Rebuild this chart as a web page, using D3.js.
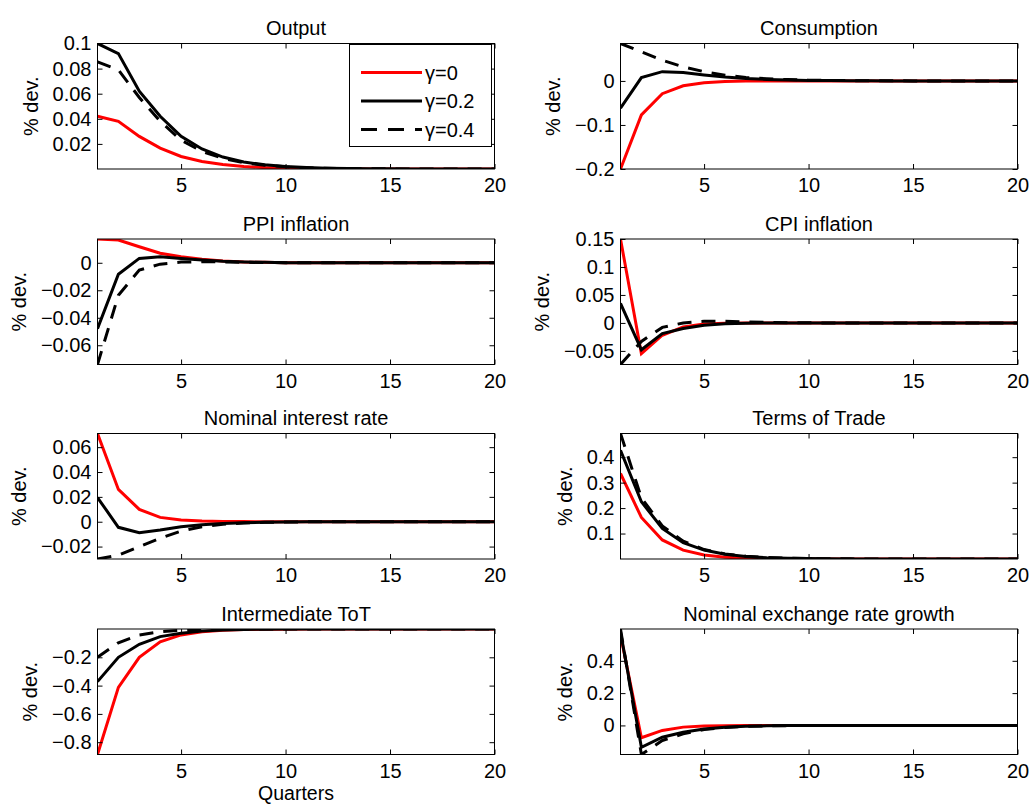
<!DOCTYPE html>
<html>
<head>
<meta charset="utf-8">
<script src="https://cdn.jsdelivr.net/npm/d3@7"></script>
<style>
  body { margin: 0; background: #fff; }
  svg { display: block; }
  text { font-family: "Liberation Sans", Arial, Helvetica, sans-serif; }
</style>
</head>
<body>
<div id="chart"></div>
<script>
// quarters on the x axis
var quarters = [1,2,3,4,5,6,7,8,9,10,11,12,13,14,15,16,17,18,19,20];
var xTicks = [5, 10, 15, 20];

var titles = ['Output', 'Consumption', 'PPI inflation', 'CPI inflation',
              'Nominal interest rate', 'Terms of Trade', 'Intermediate ToT',
              'Nominal exchange rate growth'];

// axis limits (tight) and tick labels
var yLimits = [[0, 0.1], [-0.2, 0.085], [-0.074, 0.0173], [-0.0743, 0.15],
               [-0.03, 0.071], [0, 0.493], [-0.887, 0], [-0.18, 0.597]];
var yTicks = [[0.02, 0.04, 0.06, 0.08, 0.1], [-0.2, -0.1, 0], [-0.06, -0.04, -0.02, 0],
              [-0.05, 0, 0.05, 0.1, 0.15], [-0.02, 0, 0.02, 0.04, 0.06],
              [0.1, 0.2, 0.3, 0.4], [-0.8, -0.6, -0.4, -0.2], [0, 0.2, 0.4]];

var legendLabels = ['\u03b3=0', '\u03b3=0.2', '\u03b3=0.4'];

// impulse responses, % dev.  (g0 = gamma 0, g2 = gamma 0.2, g4 = gamma 0.4)
var outputG0 = [0.042,0.038,0.026,0.0167,0.010,0.006,0.0035,0.002,0.0011,0.0006,0.0003,0.0002,0.0001,0,0,0,0,0,0,0];
var outputG2 = [0.1,0.092,0.062,0.042,0.026,0.016,0.0095,0.0056,0.0033,0.0019,0.0011,0.0006,0.0003,0.0002,0.0001,0,0,0,0,0];
var outputG4 = [0.0854,0.079,0.057,0.038,0.023,0.014,0.0085,0.005,0.003,0.0017,0.001,0.0006,0.0003,0.0002,0.0001,0,0,0,0,0];

var consG0 = [-0.2,-0.077,-0.029,-0.011,-0.004,-0.0013,-0.0004,-0.0001,0,0,0,0,0,0,0,0,0,0,0,0];
var consG2 = [-0.062,0.0075,0.021,0.019,0.0136,0.009,0.0055,0.0033,0.002,0.0012,0.0007,0.0004,0.0002,0.0001,0,0,0,0,0,0];
var consG4 = [0.085,0.066,0.047,0.032,0.021,0.013,0.008,0.005,0.003,0.0018,0.001,0.0006,0.0003,0.0002,0.0001,0,0,0,0,0];

var ppiG0 = [0.0173,0.0166,0.0117,0.0069,0.0044,0.0025,0.0013,0.0006,0.0003,0.0001,0,0,0,0,0,0,0,0,0,0];
var ppiG2 = [-0.048,-0.0083,0.0032,0.0044,0.0032,0.002,0.0011,0.0006,0.0003,0.0001,0,0,0,0,0,0,0,0,0,0];
var ppiG4 = [-0.074,-0.0236,-0.0053,-0.001,0.0005,0.0008,0.0006,0.0004,0.0002,0.0001,0,0,0,0,0,0,0,0,0,0];

var cpiG0 = [0.15,-0.055,-0.022,-0.0072,-0.002,-0.0005,-0.0001,0,0,0,0,0,0,0,0,0,0,0,0,0];
var cpiG2 = [0.035,-0.048,-0.019,-0.010,-0.004,-0.0015,-0.0005,-0.0002,0,0,0,0,0,0,0,0,0,0,0,0];
var cpiG4 = [-0.0743,-0.033,-0.008,0,0.003,0.003,0.002,0.001,0.0005,0.0002,0,0,0,0,0,0,0,0,0,0];

var rateG0 = [0.071,0.026,0.0099,0.0035,0.0014,0.0005,0.0002,0.0001,0,0,0,0,0,0,0,0,0,0,0,0];
var rateG2 = [0.0195,-0.0045,-0.0088,-0.0066,-0.004,-0.0025,-0.0015,-0.0008,-0.0004,-0.0002,-0.0001,0,0,0,0,0,0,0,0,0];
var rateG4 = [-0.03,-0.027,-0.02,-0.0133,-0.0075,-0.004,-0.002,-0.001,-0.0005,-0.0002,-0.0001,0,0,0,0,0,0,0,0,0];

var totG0 = [0.336,0.163,0.075,0.035,0.016,0.007,0.003,0.0015,0.0007,0.0003,0.0001,0,0,0,0,0,0,0,0,0];
var totG2 = [0.427,0.225,0.12,0.064,0.035,0.019,0.01,0.005,0.003,0.0015,0.0008,0.0004,0.0002,0.0001,0,0,0,0,0,0];
var totG4 = [0.493,0.24,0.13,0.07,0.037,0.02,0.011,0.006,0.003,0.0017,0.0009,0.0005,0.0002,0.0001,0,0,0,0,0,0];

var itotG0 = [-0.887,-0.412,-0.2,-0.09,-0.042,-0.02,-0.009,-0.004,-0.002,-0.001,-0.0005,-0.0002,-0.0001,0,0,0,0,0,0,0];
var itotG2 = [-0.372,-0.2,-0.108,-0.054,-0.03,-0.015,-0.007,-0.003,-0.0015,-0.0007,-0.0003,-0.0001,0,0,0,0,0,0,0,0];
var itotG4 = [-0.2,-0.097,-0.042,-0.019,-0.009,-0.004,-0.002,-0.001,-0.0005,-0.0002,-0.0001,0,0,0,0,0,0,0,0,0];

var nerG0 = [0.56,-0.076,-0.031,-0.0105,-0.004,-0.0015,-0.0005,-0.0002,0,0,0,0,0,0,0,0,0,0,0,0];
var nerG2 = [0.58,-0.135,-0.073,-0.042,-0.022,-0.011,-0.005,-0.0025,-0.0012,-0.0006,-0.0003,-0.0001,0,0,0,0,0,0,0,0];
var nerG4 = [0.597,-0.18,-0.093,-0.052,-0.026,-0.013,-0.006,-0.003,-0.0015,-0.0007,-0.0003,-0.0001,0,0,0,0,0,0,0,0];

var seriesG0 = [outputG0, consG0, ppiG0, cpiG0, rateG0, totG0, itotG0, nerG0];
var seriesG2 = [outputG2, consG2, ppiG2, cpiG2, rateG2, totG2, itotG2, nerG2];
var seriesG4 = [outputG4, consG4, ppiG4, cpiG4, rateG4, totG4, itotG4, nerG4];

/*-------------------------------------------------------*/
function fmt(d){
    if(d === 0) return '0';
    return (d < 0 ? '\u2212' : '') + String(+Math.abs(d).toFixed(3));
}

function main(){
    var W = 1031, H = 804;
    var colLeft  = [97.5, 620.5],
        colRight = [494.5, 1017.5],
        rowTop   = [43.5, 239, 433.5, 629],
        panelH   = 125.5,
        tick     = 5,
        fs       = 20;

    var styles = [
        { color: '#ff0000', dash: null },
        { color: '#000000', dash: null },
        { color: '#000000', dash: '14,10' }
    ];

    var svg = d3.select('#chart').append('svg')
                .attr('width', W)
                .attr('height', H);

    titles.forEach(function(title, i){
        var col = i % 2, row = Math.floor(i / 2);
        var x0 = colLeft[col], x1 = colRight[col],
            y0 = rowTop[row], y1 = rowTop[row] + panelH;

        var x = d3.scaleLinear().domain([1, 20]).range([x0, x1]);
        var y = d3.scaleLinear().domain(yLimits[i]).range([y1, y0]);

        var g = svg.append('g');

        // clip lines to the axes box
        g.append('clipPath').attr('id', 'clip' + i)
          .append('rect')
            .attr('x', x0).attr('y', y0)
            .attr('width', x1 - x0).attr('height', y1 - y0);

        var line = d3.line()
                     .x(function(d, k){ return x(quarters[k]); })
                     .y(function(d){ return y(d); });

        var lines = g.append('g').attr('clip-path', 'url(#clip' + i + ')');
        [seriesG0[i], seriesG2[i], seriesG4[i]].forEach(function(s, k){
            lines.append('path')
                 .datum(s)
                 .attr('d', line)
                 .attr('fill', 'none')
                 .attr('stroke', styles[k].color)
                 .attr('stroke-width', 3)
                 .attr('stroke-dasharray', styles[k].dash);
        });

        // axes: labelled bottom & left, bare ticks top & right (matlab box)
        g.append('g')
           .attr('transform', 'translate(0,' + y1 + ')')
           .call(d3.axisBottom(x).tickValues(xTicks).tickSizeInner(-tick).tickSizeOuter(0)
                   .tickPadding(9).tickFormat(d3.format('d')));
        g.append('g')
           .attr('transform', 'translate(0,' + y0 + ')')
           .call(d3.axisTop(x).tickValues(xTicks).tickSizeInner(-tick).tickSizeOuter(0).tickFormat(''));
        var left = g.append('g')
           .attr('transform', 'translate(' + x0 + ',0)')
           .call(d3.axisLeft(y).tickValues(yTicks[i]).tickSizeInner(-tick).tickSizeOuter(0)
                   .tickPadding(6).tickFormat(fmt));
        g.append('g')
           .attr('transform', 'translate(' + x1 + ',0)')
           .call(d3.axisRight(y).tickValues(yTicks[i]).tickSizeInner(-tick).tickSizeOuter(0).tickFormat(''));

        g.selectAll('.domain').remove();
        g.selectAll('.tick line').attr('stroke', '#000');
        g.selectAll('.tick text')
         .attr('font-family', '"Liberation Sans", Arial, sans-serif')
         .attr('font-size', fs)
         .attr('fill', '#000');

        g.append('rect')
           .attr('x', x0).attr('y', y0)
           .attr('width', x1 - x0).attr('height', y1 - y0)
           .attr('fill', 'none')
           .attr('stroke', '#000')
           .attr('stroke-width', 1);

        // title
        g.append('text')
           .attr('x', (x0 + x1) / 2)
           .attr('y', y0 - 8.5)
           .attr('text-anchor', 'middle')
           .attr('font-size', fs)
           .text(title);

        // y label to the left of the widest tick label
        var minX = d3.min(left.selectAll('.tick text').nodes(), function(n){ return n.getBBox().x; });
        var lx = x0 + minX - 15;
        g.append('text')
           .attr('transform', 'translate(' + lx + ',' + ((y0 + y1) / 2) + ') rotate(-90)')
           .attr('text-anchor', 'middle')
           .attr('font-size', fs)
           .text('% dev.');

        if(i === 6){
            g.append('text')
               .attr('x', (x0 + x1) / 2)
               .attr('y', 800)
               .attr('text-anchor', 'middle')
               .attr('font-size', 19.5)
               .text('Quarters');
        }

        // legend in the first panel
        if(i === 0){
            var lg = g.append('g');
            lg.append('rect')
              .attr('x', 349.5).attr('y', 44.5)
              .attr('width', 142).attr('height', 102)
              .attr('fill', '#fff')
              .attr('stroke', '#000');
            legendLabels.forEach(function(lab, k){
                var ly = 72.5 + k * 28.5;
                lg.append('line')
                  .attr('x1', 361).attr('x2', 422)
                  .attr('y1', ly).attr('y2', ly)
                  .attr('stroke', styles[k].color)
                  .attr('stroke-width', 3)
                  .attr('stroke-dasharray', styles[k].dash ? '16,11' : null);
                lg.append('text')
                  .attr('x', 425).attr('y', ly + 7)
                  .attr('font-size', fs)
                  .text(lab);
            });
        }
    });
}

main();
</script>
</body>
</html>
